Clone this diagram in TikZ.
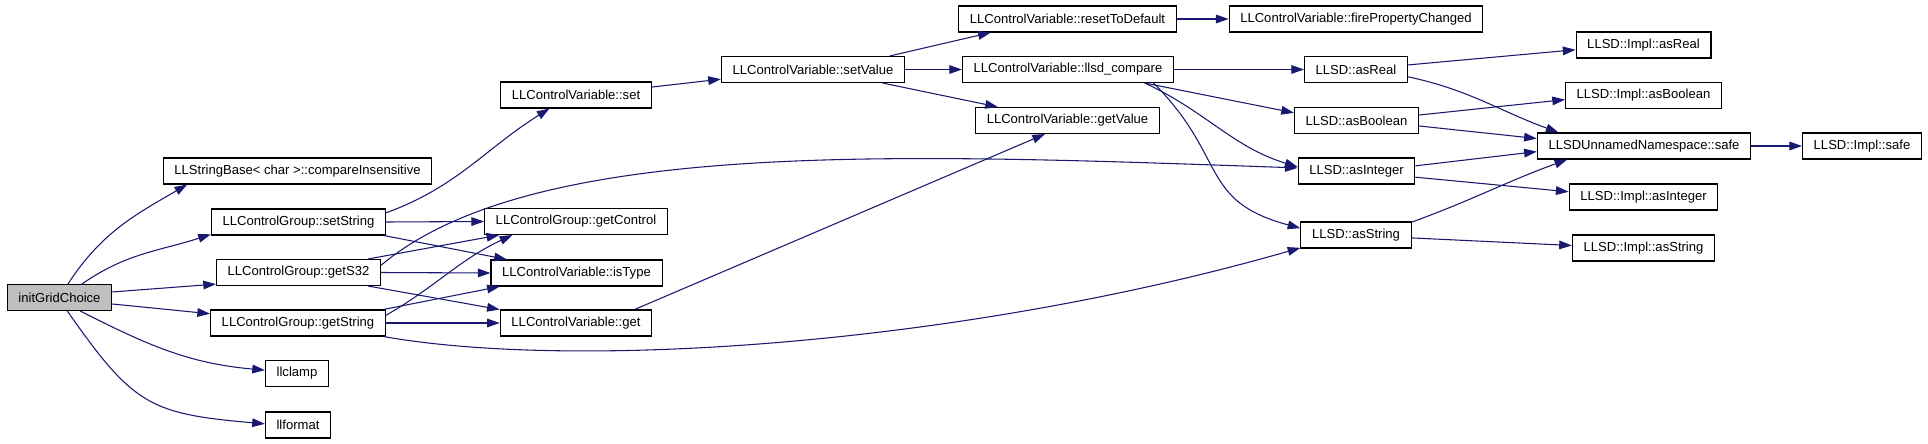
\documentclass[tikz,border=0pt]{standalone}
\usepackage{fontspec}
\setmainfont{Liberation Sans}
\usetikzlibrary{arrows.meta}
\definecolor{callblue}{HTML}{191970}

\begin{document}
\begin{tikzpicture}[x=0.75pt, y=-0.75pt,
  function/.style = {rectangle, draw, fill=white, line width=0.8pt, minimum height=19.5pt, inner ysep=0pt, inner xsep=8.4pt},
  root/.style = {function, fill=black!25},
  call/.style = {draw=callblue, line width=0.8pt, -{Triangle[length=9.5pt, width=6.5pt]}},
  font=\fontsize{9.8pt}{11.8pt}\selectfont]
  \useasboundingbox (0, 0) rectangle (1928, 443);

  % Functions.
  \node at (59.5, 297.5) [root, name=InitGridChoice] {initGridChoice};
  \node at (297.5, 171) [function, name=CompareInsensitive] {LLStringBase< char >::compareInsensitive};
  \node at (298.5, 222) [function, name=GroupSetString] {LLControlGroup::setString};
  \node at (298.5, 272.5) [function, name=GroupGetS32] {LLControlGroup::getS32};
  \node at (298, 323) [function, name=GroupGetString] {LLControlGroup::getString};
  \node at (297, 373.5) [function, name=LLClamp] {llclamp};
  \node at (298, 425) [function, name=LLFormat] {llformat};
  \node at (576, 95) [function, name=VariableSet] {LLControlVariable::set};
  \node at (813, 69.5) [function, name=VariableSetValue] {LLControlVariable::setValue};
  \node at (576, 221.5) [function, name=GroupGetControl] {LLControlGroup::getControl};
  \node at (576.5, 273) [function, name=VariableIsType] {LLControlVariable::isType};
  \node at (576, 323) [function, name=VariableGet] {LLControlVariable::get};
  \node at (1067.5, 19) [function, name=ResetToDefault] {LLControlVariable::resetToDefault};
  \node at (1356, 19) [function, name=FirePropertyChanged] {LLControlVariable::firePropertyChanged};
  \node at (1068, 69.5) [function, name=LLSDCompare] {LLControlVariable::llsd\_compare};
  \node at (1067.5, 120.5) [function, name=VariableGetValue] {LLControlVariable::getValue};
  \node at (1356, 69.5) [function, name=AsReal] {LLSD::asReal};
  \node at (1356.5, 120.5) [function, name=AsBoolean] {LLSD::asBoolean};
  \node at (1356.5, 171) [function, name=AsInteger] {LLSD::asInteger};
  \node at (1356, 235) [function, name=AsString] {LLSD::asString};
  \node at (1643.5, 45) [function, name=ImplAsReal] {LLSD::Impl::asReal};
  \node at (1643.5, 95.5) [function, name=ImplAsBoolean] {LLSD::Impl::asBoolean};
  \node at (1644, 146) [function, name=Safe] {LLSDUnnamedNamespace::safe};
  \node at (1862, 146) [function, name=ImplSafe] {LLSD::Impl::safe};
  \node at (1643.5, 197) [function, name=ImplAsInteger] {LLSD::Impl::asInteger};
  \node at (1643.5, 248) [function, name=ImplAsString] {LLSD::Impl::asString};

  % Calls from initGridChoice.
  \draw [call] (InitGridChoice.58)
               to [out=57, in=210]
               (CompareInsensitive.187);
  \draw [call] (InitGridChoice.31)
               to [out=35, in=198]
               (GroupSetString.188);
  \draw [call] (InitGridChoice.6)
               to
               (GroupGetS32.188);
  \draw [call] (InitGridChoice.353)
               to
               (GroupGetString.174);
  \draw [call] (InitGridChoice.327)
               to [out=333, in=175]
               (LLClamp.174);
  \draw [call] (InitGridChoice.300)
               to [out=305, in=175, looseness=1.3]
               (LLFormat.178);

  % Calls from LLControlGroup::setString.
  \draw [call] (GroupSetString.6)
               to [out=20, in=212]
               (VariableSet.207);
  \draw [call] (GroupSetString.east)
               to
               (GroupGetControl.west);
  \draw [call] (GroupSetString.351)
               to
               (VariableIsType.169);

  % Calls from LLControlGroup::getS32.
  \draw [call] (GroupGetS32.11)
               to
               (GroupGetControl.190);
  \draw [call] (GroupGetS32.east)
               to
               (VariableIsType.west);
  \draw [call] (GroupGetS32.349)
               to
               (VariableGet.170);
  \draw [call] (GroupGetS32.5)
               to [out=40, in=178, out looseness=0.55, in looseness=1.1]
               (AsInteger.177);

  % Calls from LLControlGroup::getString.
  \draw [call] (GroupGetString.5)
               to [out=30, in=205]
               (GroupGetControl.192);
  \draw [call] (GroupGetString.9)
               to
               (VariableIsType.190);
  \draw [call] (GroupGetString.east)
               to
               (VariableGet.west);
  \draw [call] (GroupGetString.351)
               to [out=350, in=196, out looseness=0.55, in looseness=0.97]
               (AsString.193);

  % Calls from LLControlVariable::get and ::set.
  \draw [call] (VariableGet.13)
               to
               (VariableGetValue.211);
  \draw [call] (VariableSet.6)
               to
               (VariableSetValue.186);

  % Calls from LLControlVariable::setValue.
  \draw [call] (VariableSetValue.10)
               to
               (ResetToDefault.190);
  \draw [call] (VariableSetValue.east)
               to
               (LLSDCompare.west);
  \draw [call] (VariableSetValue.349)
               to
               (VariableGetValue.169);
  \draw [call] (ResetToDefault.east)
               to
               (FirePropertyChanged.west);

  % Calls from LLControlVariable::llsd_compare.
  \draw [call] (LLSDCompare.east)
               to
               (AsReal.west);
  \draw [call] (LLSDCompare.350)
               to
               (AsBoolean.173);
  \draw [call] (LLSDCompare.350)
               to [out=335, in=163]
               (AsInteger.176);
  \draw [call] (LLSDCompare.351)
               to [out=315, in=165, looseness=1.3]
               (AsString.173);

  % Calls from the LLSD getters.
  \draw [call] (AsReal.5)
               to
               (ImplAsReal.184);
  \draw [call] (AsReal.352)
               to [out=348, in=160]
               (Safe.171);
  \draw [call] (AsBoolean.5)
               to
               (ImplAsBoolean.183);
  \draw [call] (AsBoolean.355)
               to
               (Safe.176);
  \draw [call] (AsInteger.5)
               to
               (Safe.183);
  \draw [call] (AsInteger.354)
               to
               (ImplAsInteger.176);
  \draw [call] (AsString.13)
               to [out=20, in=200]
               (Safe.190);
  \draw [call] (AsString.357)
               to
               (ImplAsString.178);
  \draw [call] (Safe.east)
               to
               (ImplSafe.west);
\end{tikzpicture}
\end{document}
